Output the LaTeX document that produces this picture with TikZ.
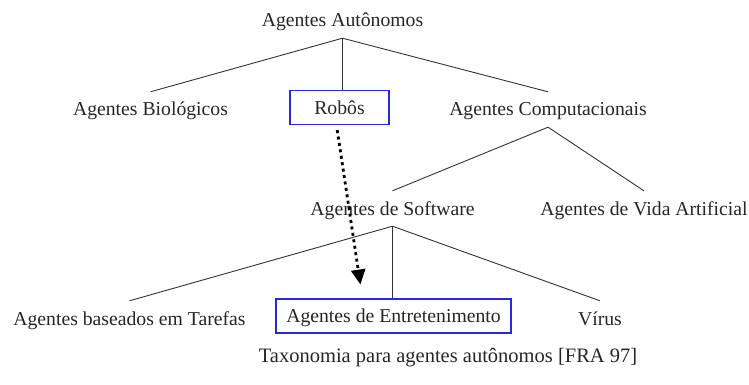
\documentclass[tikz,border=0pt]{standalone}
\usepackage{fontspec}
\setmainfont{Liberation Serif}
\usepackage{xcolor}
\usepackage{tikz}
\usetikzlibrary{arrows.meta, positioning}

\definecolor{boxblue}{RGB}{40,40,220}

\begin{document}
\begin{tikzpicture}[
    x=1pt, y=-1pt,
    txt/.style={anchor=base, inner xsep=2pt, inner ysep=11pt, text height=13pt, text depth=0pt,
                text=black!85, font=\fontsize{19.7pt}{23pt}\selectfont},
    box/.style={draw=boxblue, line width=1.2pt, inner sep=0pt, text height=13pt, text depth=0pt,
                minimum height=34pt, text=black!85, font=\fontsize{19.7pt}{23pt}\selectfont},
    edge/.style={draw=black!80, line width=0.9pt},
    dotarr/.style={line width=2.8pt, dash pattern=on 3pt off 3.5pt,
                   -{Triangle[length=15pt, width=14pt]}}
]
\useasboundingbox (0,0) rectangle (749,385);

% Level 0
\node[txt] (aut) at (342.5, 27) {Agentes Autônomos};

% Level 1
\node[txt] (bio) at (150.5, 116) {Agentes Biológicos};
\node[box, minimum width=99pt] (rob) at (339.5, 107.5) {Robôs};
\node[txt] (comp) at (548, 116) {Agentes Computacionais};

% Level 2
\node[txt] (soft) at (392.5, 215) {Agentes de Software};
\node[txt] (vida) at (644, 215) {Agentes de Vida Artificial};

% Level 3
\node[txt] (tar) at (129.5, 325) {Agentes baseados em Tarefas};
\node[box, minimum width=235pt] (ent) at (393.5, 316) {Agentes de Entretenimento};
\node[txt] (vir) at (600, 325) {Vírus};

% Tree edges
\draw[edge] (aut.south) -- (bio.north);
\draw[edge] (aut.south) -- (aut.south |- rob.north);
\draw[edge] (aut.south) -- (comp.north);

\draw[edge] (comp.south) -- (soft.north);
\draw[edge] (comp.south) -- (vida.north);

\draw[edge] (soft.south) -- (tar.north);
\draw[edge] (soft.south) -- (soft.south |- ent.north);
\draw[edge] (soft.south) -- (vir.north);

% Robots -> entertainment
\draw[dotarr, shorten <=5pt, shorten >=14pt] ([xshift=-3pt]rob.south) -- ([xshift=-31pt]ent.north);

% Caption
\node[text=black!85, font=\fontsize{20.5pt}{24pt}\selectfont, anchor=base] (cap) at (448, 362)
    {Taxonomia para agentes autônomos [FRA 97]};

\end{tikzpicture}
\end{document}
